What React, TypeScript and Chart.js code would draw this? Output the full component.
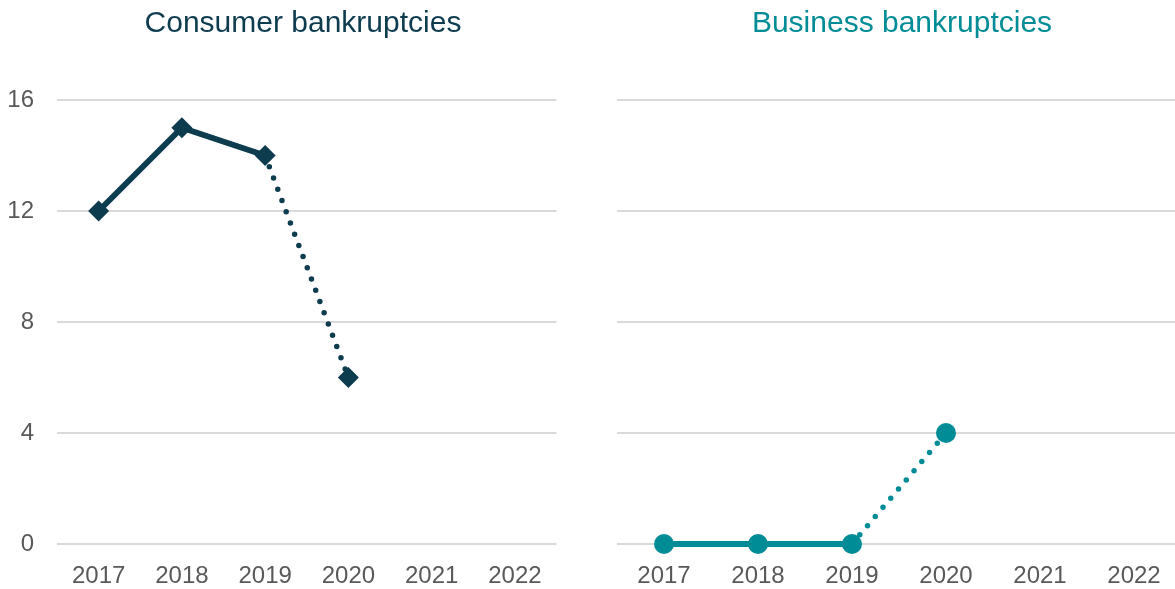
import React, { useEffect, useRef } from "react";
import { Chart, registerables } from "chart.js";

Chart.register(...registerables);

const years = ["2017", "2018", "2019", "2020", "2021", "2022"];
const consumerValues: (number | null)[] = [12, 15, 14, 6, null, null];
const businessValues: (number | null)[] = [0, 0, 0, 4, null, null];
const yTicks = [0, 4, 8, 12, 16];

const NAVY = "#0d3c4f";
const TEAL = "#008c96";
const GRID = "#d9d9d9";
const TICK = "#595959";
const FONT = "'Liberation Sans', Arial, sans-serif";

function makeConfig(values: (number | null)[], color: string, pointStyle: string, radius: number, showY: boolean, yWidth: number): any {
  return {
    type: "line",
    data: {
      labels: years,
      datasets: [
        {
          data: values,
          borderColor: color,
          backgroundColor: color,
          borderWidth: 6,
          borderCapStyle: "round",
          borderJoinStyle: "round",
          pointStyle,
          pointRadius: radius,
          pointHoverRadius: radius,
          pointBorderWidth: 0,
          pointBackgroundColor: color,
          spanGaps: false,
          clip: false,
          segment: {
            borderDash: (ctx: any) => (ctx.p0DataIndex >= 2 ? [0, 12] : undefined),
            borderWidth: (ctx: any) => (ctx.p0DataIndex >= 2 ? 5.5 : undefined),
          },
        },
      ],
    },
    options: {
      animation: false,
      responsive: false,
      maintainAspectRatio: false,
      layout: { padding: { top: 100, right: 0, bottom: 0, left: 0 } },
      plugins: { legend: { display: false }, tooltip: { enabled: false }, title: { display: false } },
      scales: {
        x: {
          offset: true,
          grid: { display: false, drawTicks: false },
          border: { display: false },
          ticks: { color: TICK, font: { family: FONT, size: 24 }, padding: 18, maxRotation: 0, autoSkip: false },
          afterFit: (s: any) => {
            s.height = 45;
          },
        },
        y: {
          min: 0,
          max: 16,
          afterBuildTicks: (s: any) => {
            s.ticks = yTicks.map((v) => ({ value: v }));
          },
          grid: { color: GRID, lineWidth: 2, drawTicks: false },
          border: { display: false },
          ticks: { display: showY, color: TICK, font: { family: FONT, size: 24 }, padding: 23 },
          afterFit: (s: any) => {
            s.width = yWidth;
          },
        },
      },
    },
  };
}

function Panel(props: { left: number; width: number; title: string; titleColor: string; titleCenter: number; config: any }) {
  const ref = useRef<HTMLCanvasElement | null>(null);
  useEffect(() => {
    if (!ref.current) return;
    const chart = new Chart(ref.current, props.config);
    return () => chart.destroy();
  }, []);
  return (
    <>
      <canvas
        ref={ref}
        width={props.width}
        height={589}
        style={{ position: "absolute", left: props.left, top: 0, width: props.width, height: 589 }}
      />
      <div
        style={{
          position: "absolute",
          left: props.titleCenter - 250,
          width: 500,
          top: 4,
          textAlign: "center",
          fontFamily: FONT,
          fontSize: 30,
          lineHeight: "36px",
          color: props.titleColor,
        }}
      >
        {props.title}
      </div>
    </>
  );
}

export default function App() {
  const left = makeConfig(consumerValues, NAVY, "rectRot", 10.5, true, 57);
  const right = makeConfig(businessValues, TEAL, "circle", 10, false, 17);
  return (
    <div style={{ position: "fixed", left: 0, top: 0, width: 1175, height: 589, overflow: "hidden", background: "#fff" }}>
      <Panel left={0} width={567} title="Consumer bankruptcies" titleColor={NAVY} titleCenter={303} config={left} />
      <Panel left={600} width={591} title="Business bankruptcies" titleColor={TEAL} titleCenter={902} config={right} />
    </div>
  );
}
